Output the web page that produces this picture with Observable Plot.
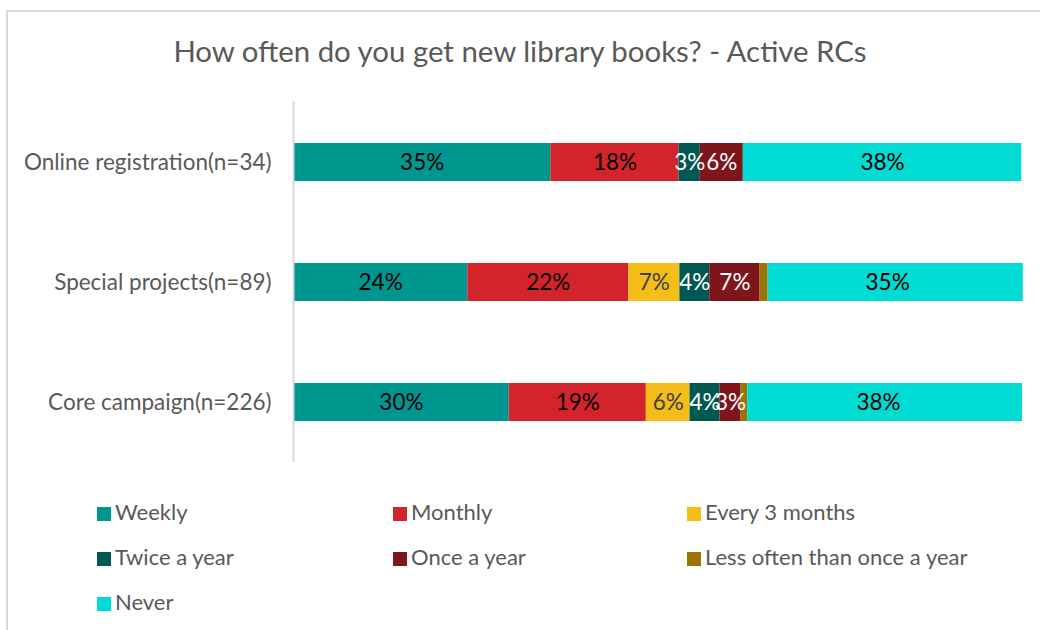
<!DOCTYPE html>
<html>
<head>
<meta charset="utf-8">
<script src="https://cdn.jsdelivr.net/npm/d3@7"></script>
<script src="https://cdn.jsdelivr.net/npm/@observablehq/plot@0.6"></script>
<style>
  html, body { margin: 0; padding: 0; background: #fff; }
  #wrap { position: relative; width: 1040px; height: 630px; overflow: hidden;
          font-family: Lato, "Liberation Sans", sans-serif; }
  #frame { position: absolute; left: 6px; top: 10px; width: 1040px; height: 640px;
           border: 2px solid #d9d9d9; box-sizing: border-box; }
  #title { position: absolute; left: 0; width: 1040px; top: 34px; text-align: center;
           font-size: 29.4px; color: #595959; line-height: 34px; }
  #chart { position: absolute; left: 0; top: 0; }
  .leg { position: absolute; font-size: 22px; color: #595959; white-space: nowrap; line-height: 24px; }
  .leg span.sw { display: inline-block; width: 14px; height: 14px; margin-right: 4px; vertical-align: -1px; }
</style>
</head>
<body>
<div id="wrap">
  <div id="frame"></div>
  <div id="chart"></div>
  <div id="title">How often do you get new library books? - Active RCs</div>
</div>
<script>
const categories = ["Online registration(n=34)", "Special projects(n=89)", "Core campaign(n=226)"];
const series = ["Weekly", "Monthly", "Every 3 months", "Twice a year", "Once a year", "Less often than once a year", "Never"];
const colors = ["#009690", "#d3242b", "#f5bd18", "#005853", "#7d151a", "#9c7406", "#00dcd4"];
const labelColors = ["#000000", "#000000", "#404040", "#ffffff", "#ffffff", "#ffffff", "#000000"];
// percentages per category, in series order
const onlineValues  = [35.3, 17.6, 0, 2.9, 5.9, 0, 38.2];
const specialValues = [23.9, 22.1, 7.0, 4.1, 6.9, 1.1, 35.0];
const coreValues    = [29.6, 18.8, 6.0, 4.1, 2.9, 0.9, 37.7];
const showLabel = [true, true, true, true, true, false, true];

const valuesByCat = [onlineValues, specialValues, coreValues];
const data = [];
categories.forEach((c, ci) => {
  series.forEach((s, si) => {
    data.push({category: c, series: s, value: valuesByCat[ci][si], si});
  });
});

const stackOpts = {x: "value", y: "category", z: "series", order: series};
const font = 'Lato, "Liberation Sans", sans-serif';

const plot = Plot.plot({
  width: 1040,
  height: 500,
  marginTop: 102,
  marginBottom: 38,
  marginLeft: 293,
  marginRight: 18,
  style: {fontFamily: font, fontSize: "22px", background: "transparent"},
  x: {domain: [0, 100], axis: null},
  y: {domain: categories, paddingInner: 0.683, paddingOuter: 0.3415, label: null, axis: null},
  color: {domain: series, range: colors},
  marks: [
    Plot.barX(data, Plot.stackX({...stackOpts, fill: "series"})),
    Plot.text(data.filter(d => d.value > 0 && showLabel[d.si]), Plot.stackX({
      ...stackOpts,
      text: d => Math.round(d.value) + "%",
      fill: d => labelColors[d.si],
      fontSize: 22.5
    })),
    Plot.ruleX([0], {stroke: "#d9d9d9", strokeWidth: 2, insetTop: -1}),
    Plot.axisY({tickSize: 0, tickPadding: 22, fill: "#595959", fontSize: 22.5, label: null})
  ]
});
document.getElementById("chart").appendChild(plot);

// legend
const wrap = document.getElementById("wrap");
const legX = [97, 393, 687];
const legY = [500, 545, 590];
series.forEach((s, i) => {
  const d = document.createElement("div");
  d.className = "leg";
  d.style.left = legX[i % 3] + "px";
  d.style.top = legY[Math.floor(i / 3)] + "px";
  d.innerHTML = `<span class="sw" style="background:${colors[i]}"></span>${s}`;
  wrap.appendChild(d);
});
</script>
</body>
</html>
